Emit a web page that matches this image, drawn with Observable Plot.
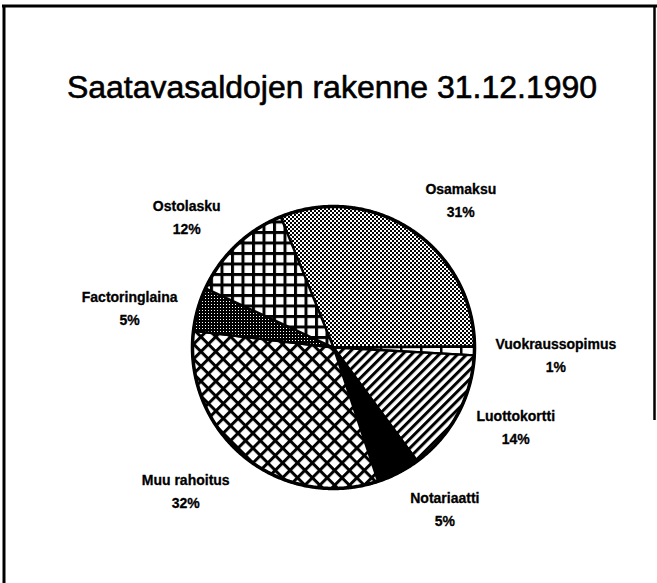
<!DOCTYPE html>
<html><head><meta charset="utf-8">
<script src="https://cdn.jsdelivr.net/npm/d3@7"></script>
<script src="https://cdn.jsdelivr.net/npm/@observablehq/plot@0.6"></script>
<style>html,body{margin:0;padding:0;background:#fff}</style>
</head><body><div id="chart"></div>
<script>
// ---- data ----
const title = "Saatavasaldojen rakenne 31.12.1990";
const categories = ["Osamaksu", "Vuokraussopimus", "Luottokortti", "Notariaatti", "Muu rahoitus", "Factoringlaina", "Ostolasku"];
const shares = [31, 1, 14, 5, 32, 5, 12];
const patterns = ["dots", "vlines", "diag", "solid", "cross", "dark", "grid"];
const startAngleDeg = -22;

// ---- layout ----
const W = 657, H = 583, CX = 333, CY = 347, R = 141;
const px = p => (p - CX) / R, py = p => (CY - p) / R;
const FONT = '"Liberation Sans", Arial, Helvetica, sans-serif';
const LABEL_SIZE = 14;
const toRad = d => d * Math.PI / 180;

const total = d3.sum(shares);
let acc = startAngleDeg;
const slices = categories.map((name, i) => {
  const a0 = acc, a1 = acc + shares[i] / total * 360; acc = a1;
  return {name, share: shares[i], pattern: patterns[i], a0, a1};
});

function arcPoints(a0, a1, withCenter) {
  const pts = withCenter ? [{x: 0, y: 0}] : [];
  const n = Math.max(2, Math.ceil((a1 - a0) / 0.5));
  for (let k = 0; k <= n; k++) {
    const t = toRad(a0 + (a1 - a0) * k / n);
    pts.push({x: Math.sin(t), y: Math.cos(t)});
  }
  if (withCenter) pts.push({x: 0, y: 0});
  return pts;
}

const ctx = document.createElement("canvas").getContext("2d");
ctx.font = `bold ${LABEL_SIZE}px ${FONT}`;
const labels = slices.map(s => {
  const m = toRad((s.a0 + s.a1) / 2);
  const ax = Math.sin(m) * 158, ay = -Math.cos(m) * 158;
  const pct = s.share + "%";
  const w = Math.max(ctx.measureText(s.name).width, ctx.measureText(pct).width);
  const lx = ax >= 0 ? ax + 4 + w / 2 : ax - 4 - w / 2;
  const c = Math.cos(m);
  const ly = c > 0.6 ? ay - 18 : c < -0.6 ? ay + 19 : ay + 2;
  return {x: lx / R, y: -ly / R, text: s.name + "\n" + pct};
});

const fillFor = p => p === "solid" ? "black" : `url(#pat-${p})`;

const sliceMarks = slices.map(s =>
  Plot.line(arcPoints(s.a0, s.a1, true), {
    x: "x", y: "y", fill: fillFor(s.pattern), stroke: "black",
    strokeWidth: 2.3, strokeLinejoin: "round"
  })
);

const chart = Plot.plot({
  width: W, height: H, margin: 0,
  x: {domain: [px(0), px(W)], axis: null},
  y: {domain: [py(H), py(0)], axis: null},
  style: {background: "white"},
  marks: [
    ...sliceMarks,
    Plot.line(arcPoints(0, 360, false), {x: "x", y: "y", stroke: "black", strokeWidth: 3.5}),
    Plot.text(labels, {
      x: "x", y: "y", text: "text", fontSize: LABEL_SIZE, fontWeight: "bold",
      fontFamily: FONT, lineHeight: 23 / LABEL_SIZE, textAnchor: "middle", fill: "black",
      stroke: "black", strokeWidth: 0.3
    }),
    Plot.text([title], {
      x: px(331.5), y: py(97), text: d => d, fontSize: 32, fontFamily: FONT,
      lineAnchor: "bottom", textAnchor: "middle", fill: "black",
      stroke: "black", strokeWidth: 0.6
    }),
    Plot.ruleX([px(3.5)], {y1: py(5), y2: py(H), stroke: "black", strokeWidth: 3}),
    Plot.ruleY([py(5.5)], {x1: px(2), x2: px(W), stroke: "black", strokeWidth: 3}),
    Plot.ruleX([px(654)], {y1: py(5), y2: py(420), stroke: "black", strokeWidth: 2.5})
  ]
});

// patterns
const g = chart.querySelector('g[aria-label="line"]');
const tr = (g && g.getAttribute("transform")) || "";
const off = tr.includes("0.5") ? -0.5 : 0;
const ns = "http://www.w3.org/2000/svg";
const defs = document.createElementNS(ns, "defs");
defs.innerHTML = `
<pattern id="pat-dots" patternUnits="userSpaceOnUse" x="${off}" y="${off}" width="4" height="4">
  <rect width="4" height="4" fill="white"/><rect width="2" height="2" fill="black"/><rect x="2" y="2" width="2" height="2" fill="black"/>
</pattern>
<pattern id="pat-dark" patternUnits="userSpaceOnUse" x="${off}" y="${off}" width="3" height="3">
  <rect width="3" height="3" fill="black"/><rect x="1" y="1" width="1" height="1" fill="white"/>
</pattern>
<pattern id="pat-vlines" patternUnits="userSpaceOnUse" x="${off}" y="${off}" width="20" height="20">
  <rect width="20" height="20" fill="white"/><rect width="2.5" height="20" fill="black"/>
</pattern>
<pattern id="pat-diag" patternUnits="userSpaceOnUse" width="6.5" height="6.5" patternTransform="rotate(45)">
  <rect width="6.5" height="6.5" fill="white"/><rect width="3" height="6.5" fill="black"/>
</pattern>
<pattern id="pat-cross" patternUnits="userSpaceOnUse" width="10.5" height="10.5" patternTransform="rotate(45)">
  <rect width="10.5" height="10.5" fill="white"/><rect width="3" height="10.5" fill="black"/><rect width="10.5" height="3" fill="black"/>
</pattern>
<pattern id="pat-grid" patternUnits="userSpaceOnUse" x="${off}" y="${off}" width="10.5" height="10.5">
  <rect width="10.5" height="10.5" fill="white"/><rect width="3" height="10.5" fill="black"/><rect width="10.5" height="3" fill="black"/>
</pattern>`;
chart.insertBefore(defs, chart.firstChild);

document.getElementById("chart").appendChild(chart);
</script>
</body></html>
